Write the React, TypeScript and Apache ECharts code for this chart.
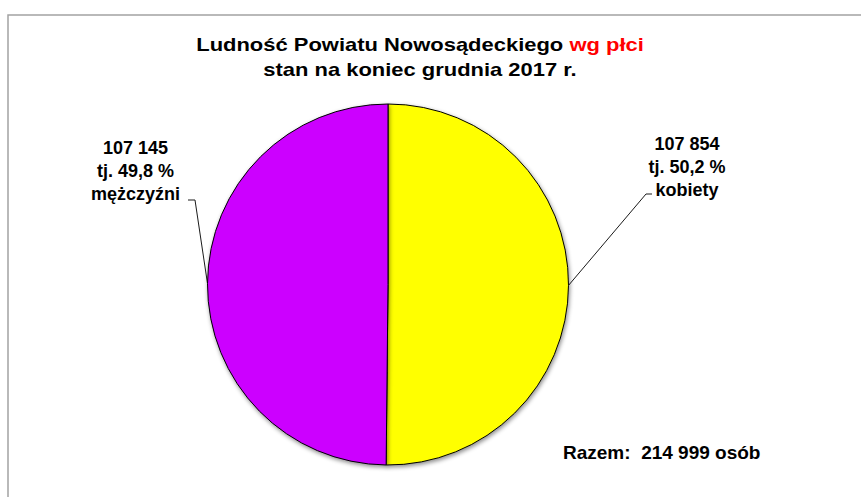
import React, { useEffect, useRef } from 'react';
import * as echarts from 'echarts';

const categories = ['kobiety', 'mężczyźni'];
const values = [107854, 107145];
const colors = ['#FFFF00', '#CC00FF'];
const titleMain = 'Ludność Powiatu Nowosądeckiego ';
const titleHighlight = 'wg płci';
const titleSub = 'stan na koniec grudnia 2017 r.';
const totalPrefix = 'Razem:  ';
const totalUnit = ' osób';

const FONT = "'Liberation Sans', Arial, sans-serif";

const fmt = (n: number) => String(n).replace(/\B(?=(\d{3})+(?!\d))/g, ' ');

export default function App() {
  const ref = useRef<HTMLDivElement>(null);

  useEffect(() => {
    if (!ref.current) return;
    const chart = echarts.init(ref.current, null, { renderer: 'svg' });
    const total = values.reduce((a, b) => a + b, 0);
    const pct = (v: number) => ((v / total) * 100).toFixed(1).replace('.', ',');

    // label anchor positions (layout) and leader-line knee offsets
    const labelPos = [
      { x: 687, y: 167, knee: [-41, 27], end: [-35, 27] },
      { x: 135.5, y: 171, knee: [59.5, 29], end: [52.5, 29] },
    ];

    chart.setOption({
      animation: false,
      backgroundColor: '#ffffff',
      graphic: [
        {
          type: 'rect',
          shape: { x: 8, y: 15, width: 900, height: 600 },
          style: { fill: 'none', stroke: '#a3a3a3', lineWidth: 1.5 },
          silent: true,
        },
        {
          type: 'text',
          x: 420,
          y: 44.7,
          scaleX: 1.22,
          style: {
            text: `{b|${titleMain}}{r|${titleHighlight}}`,
            align: 'center',
            verticalAlign: 'middle',
            fontSize: 18,
            fontWeight: 'bold',
            fontFamily: FONT,
            fill: '#000',
            rich: {
              b: { fontSize: 18, fontWeight: 'bold', fontFamily: FONT, fill: '#000' },
              r: { fontSize: 18, fontWeight: 'bold', fontFamily: FONT, fill: '#FF0000' },
            },
          },
        },
        {
          type: 'text',
          x: 420,
          y: 69.7,
          scaleX: 1.22,
          style: {
            text: titleSub,
            align: 'center',
            verticalAlign: 'middle',
            fontSize: 18,
            fontWeight: 'bold',
            fontFamily: FONT,
            fill: '#000',
          },
        },
        {
          type: 'text',
          x: 563,
          y: 452.5,
          style: {
            text: `${totalPrefix}${fmt(total)}${totalUnit}`,
            align: 'left',
            verticalAlign: 'middle',
            fontSize: 19,
            fontWeight: 'bold',
            fontFamily: FONT,
            fill: '#000',
          },
        },
      ],
      series: [
        {
          type: 'pie',
          center: [388, 284.5],
          radius: 180.5,
          startAngle: 90,
          clockwise: true,
          silent: true,
          emphasis: { disabled: true },
          data: categories.map((name, i) => ({
            name,
            value: values[i],
            itemStyle: { color: colors[i] },
          })),
          itemStyle: {
            borderColor: '#000',
            borderWidth: 1,
            shadowBlur: 4,
            shadowOffsetX: 1,
            shadowOffsetY: 2,
            shadowColor: 'rgba(0,0,0,0.45)',
          },
          label: {
            show: true,
            position: 'outside',
            formatter: (p: any) => `${fmt(p.value)}\ntj. ${pct(p.value)} %\n${p.name}`,
            fontSize: 18,
            fontWeight: 'bold',
            fontFamily: FONT,
            color: '#000',
            lineHeight: 23,
            align: 'center',
          },
          labelLine: {
            show: true,
            lineStyle: { color: '#1a1a1a', width: 1 },
          },
          labelLayout: (params: any) => {
            const lp = labelPos[params.dataIndex];
            let p0 = params.labelLinePoints && params.labelLinePoints[0];
            if (!p0) {
              const r = params.rect;
              p0 =
                params.dataIndex === 0
                  ? [r.x + r.width, r.y + r.height / 2]
                  : [r.x, r.y + r.height / 2];
            }
            return {
              x: lp.x,
              y: lp.y,
              align: 'center',
              verticalAlign: 'middle',
              labelLinePoints: [
                p0,
                [lp.x + lp.knee[0], lp.y + lp.knee[1]],
                [lp.x + lp.end[0], lp.y + lp.end[1]],
              ],
            };
          },
        },
      ],
    });

    return () => chart.dispose();
  }, []);

  return (
    <div
      ref={ref}
      style={{ position: 'absolute', left: 0, top: 0, width: 861, height: 497 }}
    />
  );
}
